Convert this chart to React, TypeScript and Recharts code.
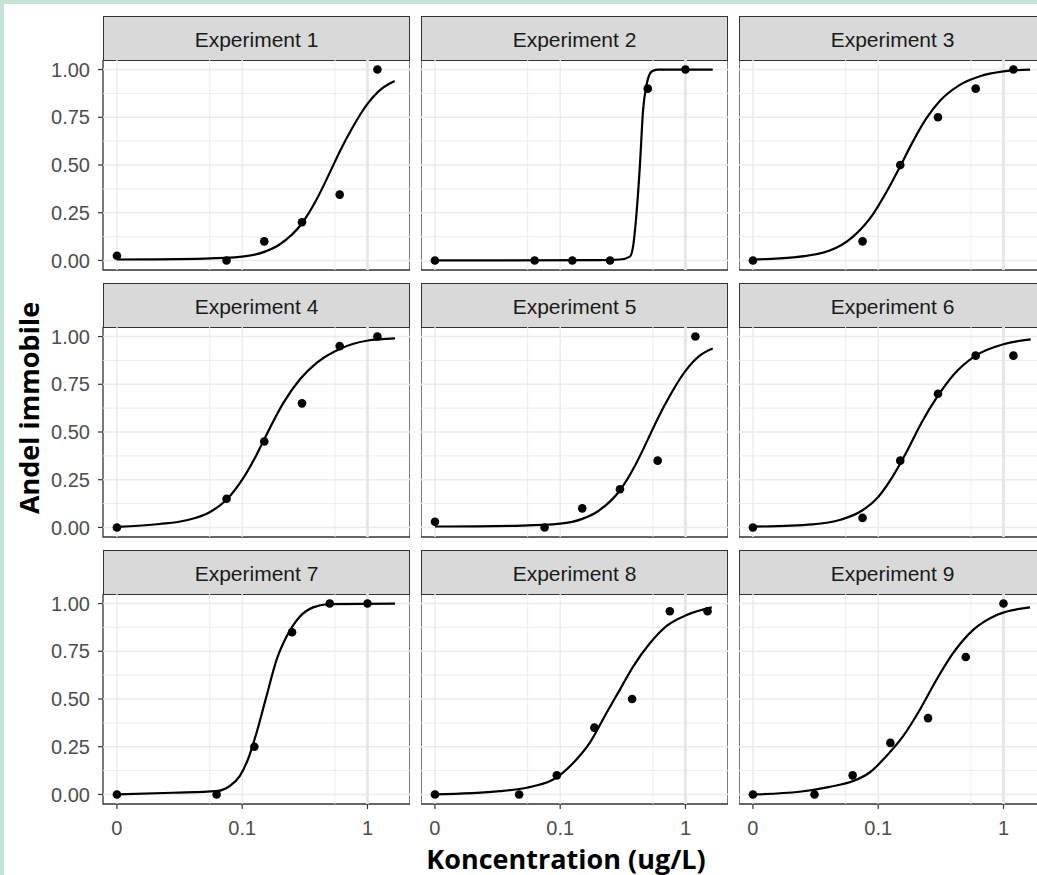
import React from "react";
import {
  ComposedChart,
  XAxis,
  YAxis,
  Line,
  Scatter,
  ReferenceLine,
  ReferenceArea,
} from "recharts";

// ---------- data ----------
const EXPERIMENTS = [
  "Experiment 1", "Experiment 2", "Experiment 3",
  "Experiment 4", "Experiment 5", "Experiment 6",
  "Experiment 7", "Experiment 8", "Experiment 9",
];

// concentrations (ug/L); 0 = control, shown at the "0" break
const CONC_A = [0, 0.075, 0.15, 0.3, 0.6, 1.2];
const CONC_B = [0, 0.0625, 0.125, 0.25, 0.5, 1.0];
const CONC_8 = [0, 0.047, 0.094, 0.1875, 0.375, 0.75, 1.5];
const CONC_9 = [0, 0.031, 0.0625, 0.125, 0.25, 0.5, 1.0];

// observed fraction immobile
const RESP_1 = [0.025, 0, 0.1, 0.2, 0.345, 1.0];
const RESP_2 = [0, 0, 0, 0, 0.9, 1.0];
const RESP_3 = [0, 0.1, 0.5, 0.75, 0.9, 1.0];
const RESP_4 = [0, 0.15, 0.45, 0.65, 0.95, 1.0];
const RESP_5 = [0.03, 0, 0.1, 0.2, 0.35, 1.0];
const RESP_6 = [0, 0.05, 0.35, 0.7, 0.9, 0.9];
const RESP_7 = [0, 0, 0.25, 0.85, 1.0, 1.0];
const RESP_8 = [0, 0, 0.1, 0.35, 0.5, 0.96, 0.96];
const RESP_9 = [0, 0, 0.1, 0.27, 0.4, 0.72, 1.0];

// fitted curves
const CURVE_X_1 = [0, 0.05, 0.1, 0.15, 0.2, 0.3, 0.4, 0.5, 0.6, 0.75, 1.0, 1.3, 1.65];
const CURVE_Y_1 = [0.005, 0.01, 0.02, 0.045, 0.085, 0.195, 0.33, 0.46, 0.57, 0.69, 0.82, 0.9, 0.94];
const CURVE_X_2 = [0, 0.2, 0.3, 0.36, 0.382, 0.407, 0.432, 0.459, 0.489, 0.537, 0.6, 1.0, 1.65];
const CURVE_Y_2 = [0, 0.002, 0.005, 0.02, 0.075, 0.25, 0.49, 0.79, 0.92, 0.99, 1.0, 1.0, 1.0];
const CURVE_X_3 = [0, 0.021, 0.041, 0.063, 0.091, 0.116, 0.149, 0.19, 0.243, 0.31, 0.449, 0.649, 1.0, 1.63];
const CURVE_Y_3 = [0.005, 0.016, 0.052, 0.125, 0.243, 0.357, 0.49, 0.625, 0.745, 0.835, 0.92, 0.965, 0.99, 1.0];
const CURVE_X_4 = [0, 0.022, 0.036, 0.055, 0.075, 0.1, 0.13, 0.166, 0.212, 0.288, 0.393, 0.6, 0.986, 1.66];
const CURVE_Y_4 = [0.003, 0.018, 0.038, 0.08, 0.145, 0.25, 0.38, 0.52, 0.65, 0.775, 0.862, 0.935, 0.978, 0.99];
const CURVE_X_5 = [0, 0.05, 0.1, 0.15, 0.2, 0.3, 0.4, 0.5, 0.6, 0.75, 1.0, 1.3, 1.65];
const CURVE_Y_5 = [0.005, 0.01, 0.02, 0.045, 0.085, 0.195, 0.33, 0.46, 0.57, 0.69, 0.82, 0.9, 0.937];
const CURVE_X_6 = [0, 0.03, 0.05, 0.075, 0.1, 0.13, 0.17, 0.22, 0.3, 0.4, 0.6, 1.0, 1.65];
const CURVE_Y_6 = [0.004, 0.016, 0.04, 0.09, 0.16, 0.265, 0.4, 0.545, 0.69, 0.8, 0.9, 0.96, 0.985];
const CURVE_X_7 = [0, 0.028, 0.062, 0.079, 0.0955, 0.111, 0.13, 0.156, 0.188, 0.226, 0.288, 0.368, 0.5, 1.66];
const CURVE_Y_7 = [0, 0.009, 0.017, 0.043, 0.096, 0.183, 0.322, 0.513, 0.705, 0.827, 0.931, 0.98, 0.997, 1.0];
const CURVE_X_8 = [0, 0.033, 0.061, 0.088, 0.127, 0.172, 0.234, 0.299, 0.382, 0.52, 0.708, 1.02, 1.62];
const CURVE_Y_8 = [0, 0.017, 0.043, 0.078, 0.165, 0.27, 0.427, 0.548, 0.67, 0.792, 0.883, 0.94, 0.98];
const CURVE_X_9 = [0, 0.0235, 0.041, 0.063, 0.0855, 0.116, 0.158, 0.215, 0.292, 0.396, 0.573, 0.883, 1.63];
const CURVE_Y_9 = [0, 0.014, 0.04, 0.07, 0.115, 0.2, 0.305, 0.444, 0.601, 0.74, 0.862, 0.94, 0.98];

const CONCS = [CONC_A, CONC_B, CONC_A, CONC_A, CONC_A, CONC_A, CONC_B, CONC_8, CONC_9];
const RESPS = [RESP_1, RESP_2, RESP_3, RESP_4, RESP_5, RESP_6, RESP_7, RESP_8, RESP_9];
const CURVES_X = [CURVE_X_1, CURVE_X_2, CURVE_X_3, CURVE_X_4, CURVE_X_5, CURVE_X_6, CURVE_X_7, CURVE_X_8, CURVE_X_9];
const CURVES_Y = [CURVE_Y_1, CURVE_Y_2, CURVE_Y_3, CURVE_Y_4, CURVE_Y_5, CURVE_Y_6, CURVE_Y_7, CURVE_Y_8, CURVE_Y_9];

const X_TICKS = [0, 0.1, 1];
const X_MINOR = [0.055, 0.55];
const Y_TICKS = [0, 0.25, 0.5, 0.75, 1];
const Y_MINOR = [0.125, 0.375, 0.625, 0.875];

// ---------- scale helpers ----------
const ZERO_AT = 0.01; // where the "0" control sits on the log axis
const toAxis = (c: number) => (c === 0 ? ZERO_AT : c);
const X_DOMAIN: [number, number] = [0.00774, 2.185];
const Y_DOMAIN: [number, number] = [-0.05, 1.05];

// ---------- layout ----------
const COL_LEFT = [103, 421, 739];
const STRIP_TOP = [16, 283, 550];
const STRIP_H = 44;
const PANEL_W = 307;
const PANEL_H = 210;
const Y_AXIS_W = 60;
const X_AXIS_H = 45;
const PAD_B = 12; // room below hidden x axes so the lowest y label is not clipped

const TICK_FONT = "'Liberation Sans', Arial, sans-serif";
const TITLE_FONT = "'Open Sans', Lato, sans-serif";

function Panel({ idx }: { idx: number }) {
  const row = Math.floor(idx / 3);
  const col = idx % 3;
  const showY = col === 0;
  const showX = row === 2;
  const points = CONCS[idx].map((c, i) => ({ x: toAxis(c), y: RESPS[idx][i] }));
  const curve = CURVES_X[idx].map((c, i) => ({ x: toAxis(c), y: CURVES_Y[idx][i] }));
  const width = PANEL_W + (showY ? Y_AXIS_W : 0);
  const height = PANEL_H + (showX ? X_AXIS_H : PAD_B);
  const left = COL_LEFT[col] - (showY ? Y_AXIS_W : 0);
  const top = STRIP_TOP[row] + STRIP_H;
  const tickStyle = { fill: "#4d4d4d", fontSize: 20, fontFamily: TICK_FONT };
  return (
    <>
      <div
        style={{
          position: "absolute",
          left: COL_LEFT[col],
          top: STRIP_TOP[row],
          width: PANEL_W,
          height: STRIP_H + 1,
          boxSizing: "border-box",
          background: "#d9d9d9",
          border: "1.3px solid #333333",
          display: "flex",
          alignItems: "center",
          justifyContent: "center",
          paddingTop: 3,
          fontFamily: TICK_FONT,
          fontSize: 21,
          color: "#1a1a1a",
        }}
      >
        {EXPERIMENTS[idx]}
      </div>
      <div style={{ position: "absolute", left, top }}>
        <ComposedChart
          width={width}
          height={height}
          margin={{ top: 0, right: 0, bottom: showX ? 0 : PAD_B, left: 0 }}
        >
          <XAxis
            dataKey="x"
            type="number"
            scale="log"
            domain={X_DOMAIN}
            allowDataOverflow
            ticks={X_TICKS.map(toAxis)}
            interval={0}
            tickFormatter={(v: number) => (v === ZERO_AT ? "0" : String(v))}
            hide={!showX}
            height={X_AXIS_H}
            axisLine={false}
            tickSize={5}
            tickMargin={12}
            tick={tickStyle}
            tickLine={{ stroke: "#333333", strokeWidth: 1.2 }}
          />
          <YAxis
            dataKey="y"
            type="number"
            domain={Y_DOMAIN}
            allowDataOverflow
            ticks={Y_TICKS}
            interval={0}
            tickFormatter={(v: number) => v.toFixed(2)}
            hide={!showY}
            width={Y_AXIS_W}
            axisLine={false}
            tickSize={5}
            tickMargin={8}
            tick={tickStyle}
            tickLine={{ stroke: "#333333", strokeWidth: 1.2 }}
          />
          {Y_MINOR.map((v) => (
            <ReferenceLine key={"ym" + v} y={v} stroke="#ececec" strokeWidth={1} />
          ))}
          {X_MINOR.map((v) => (
            <ReferenceLine key={"xm" + v} x={v} stroke="#ececec" strokeWidth={1} />
          ))}
          {Y_TICKS.map((v) => (
            <ReferenceLine key={"y" + v} y={v} stroke="#ebebeb" strokeWidth={1.4} />
          ))}
          {X_TICKS.map((v) => (
            <ReferenceLine
              key={"x" + v}
              x={toAxis(v)}
              stroke={v === 1 ? "#e6e6e6" : "#ebebeb"}
              strokeWidth={v === 1 ? 2.8 : 1.4}
            />
          ))}
          <Line
            data={curve}
            dataKey="y"
            type="monotone"
            stroke="#000000"
            strokeWidth={2.2}
            dot={false}
            isAnimationActive={false}
          />
          <Scatter
            data={points}
            dataKey="y"
            isAnimationActive={false}
            shape={(p: any) => <circle cx={p.cx} cy={p.cy} r={4.3} fill="#000000" />}
          />
          <ReferenceArea
            x1={X_DOMAIN[0]}
            x2={X_DOMAIN[1]}
            y1={Y_DOMAIN[0]}
            y2={Y_DOMAIN[1]}
            fill="none"
            fillOpacity={0}
            stroke="#333333"
            strokeWidth={1.3}
            ifOverflow="visible"
          />
        </ComposedChart>
      </div>
    </>
  );
}

export default function App() {
  return (
    <div
      style={{
        position: "absolute",
        left: 0,
        top: 0,
        width: 1037,
        height: 875,
        overflow: "hidden",
        background: "#ffffff",
      }}
    >
      <div style={{ position: "absolute", left: 0, top: 0, width: 1037, height: 4, background: "#c4e5d6" }} />
      <div style={{ position: "absolute", left: 0, top: 0, width: 4, height: 875, background: "#c4e5d6" }} />
      {EXPERIMENTS.map((_, i) => (
        <Panel key={i} idx={i} />
      ))}
      <div
        style={{
          position: "absolute",
          left: 566,
          top: 858,
          transform: "translate(-50%, -50%)",
          whiteSpace: "nowrap",
          fontFamily: TITLE_FONT,
          fontWeight: 700,
          fontSize: 27,
          color: "#000000",
        }}
      >
        Koncentration (ug/L)
      </div>
      <div
        style={{
          position: "absolute",
          left: 28,
          top: 408,
          transform: "translate(-50%, -50%) rotate(-90deg)",
          whiteSpace: "nowrap",
          fontFamily: TITLE_FONT,
          fontWeight: 700,
          fontSize: 27,
          color: "#000000",
        }}
      >
        Andel immobile
      </div>
    </div>
  );
}
